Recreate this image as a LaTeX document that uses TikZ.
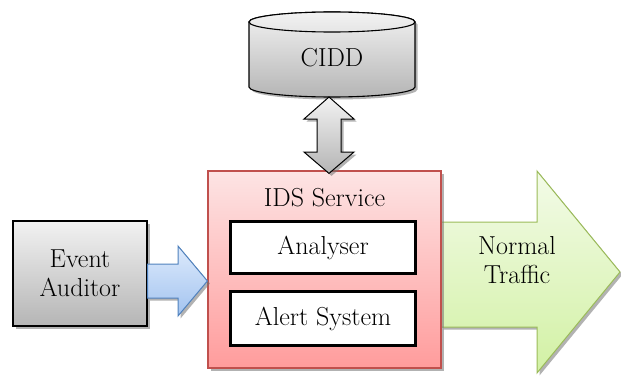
\documentclass[tikz,border=0pt]{standalone}
\usepackage{fontspec}
\usetikzlibrary{calc,shadows}
\definecolor{idsborder}{HTML}{C0504D}
\definecolor{idstop}{HTML}{FDE4E4}
\definecolor{idsbot}{HTML}{FF9C9C}
\definecolor{bluebd}{HTML}{4F81BD}
\definecolor{bluetop}{HTML}{DDEAFC}
\definecolor{bluebot}{HTML}{A2C3EF}
\definecolor{greenbd}{HTML}{9BBB59}
\definecolor{greentop}{HTML}{F3FBE8}
\definecolor{greenbot}{HTML}{D2F1A4}
\definecolor{greytop}{HTML}{F2F2F2}
\definecolor{greybot}{HTML}{B5B5B5}
\tikzset{
  txt/.style={font=\fontsize{26}{29}\selectfont, align=center, inner sep=0pt},
  shade2/.style={drop shadow={shadow xshift=2.5pt, shadow yshift=-2.5pt, fill=black!55, opacity=0.55}},
  greybox/.style={draw=black, line width=1.1pt, top color=greytop, bottom color=greybot, shade2},
  idsbox/.style={draw=idsborder, line width=1.2pt, top color=idstop, bottom color=idsbot, shade2},
  partbox/.style={draw=black, line width=3pt, fill=white, txt},
  bluearrow/.style={draw=bluebd, line width=1pt, top color=bluetop, bottom color=bluebot, shade2},
  greenarrow/.style={draw=greenbd, line width=1pt, top color=greentop, bottom color=greenbot, shade2},
  greyarrow/.style={draw=black, line width=1pt, top color=greytop, bottom color=greybot, shade2},
}
\begin{document}
\begin{tikzpicture}[x=1pt, y=1pt, line join=miter]
\useasboundingbox (0,0) rectangle (621,376);

% CIDD store: cylinder body and top face
\path[greybox] (249,354) -- (249,289)
  arc[start angle=180, end angle=360, x radius=83, y radius=10]
  -- (415,354) arc[start angle=0, end angle=180, x radius=83, y radius=10] -- cycle;
\draw[line width=1.1pt, top color=greytop, bottom color=greytop!80!greybot]
  (332,354) ellipse[x radius=83, y radius=10];
\node[txt] (cidd) at (332,318) {CIDD};
\coordinate (ciddbot) at (329,279);

% Event auditor
\node[greybox, txt, minimum width=134pt, minimum height=105pt] (ea) at (80,102.5) {Event\\Auditor};

% Outgoing traffic arrow
\path[greenarrow] (441,154) -- (537,154) -- (537,205) -- (620,104) -- (537,3)
  -- (537,49) -- (441,49) -- cycle;
\node[txt] (nt) at (517,116) {Normal\\Traffic};

% IDS service with its parts
\node[idsbox, minimum width=233pt, minimum height=197pt] (ids) at (324.5,106.5) {};
\node[txt] (idslabel) at (324.5,178) {IDS Service};
\node[partbox, minimum width=185pt, minimum height=52pt] (an) at (323,128.5) {Analyser};
\node[partbox, minimum width=185pt, minimum height=54pt] (al) at (323,57.5) {Alert System};

% Event auditor feeds the IDS service
\path[bluearrow] (ea.east |- 0,112) -- (178,112) -- (178,130) -- (ids.west |- 0,95)
  -- (178,60) -- (178,78) -- (ea.east |- 0,78) -- cycle;

% Two-way link between CIDD and the IDS service
\coordinate (idstop) at ($(ids.north -| ciddbot)+(0,-3)$);
\path[greyarrow] (ciddbot) -- (354,257) -- (341,257) -- (341,224) -- (354,224)
  -- (idstop) -- (304,224) -- (317,224) -- (317,257)
  -- (304,257) -- cycle;
\end{tikzpicture}
\end{document}
